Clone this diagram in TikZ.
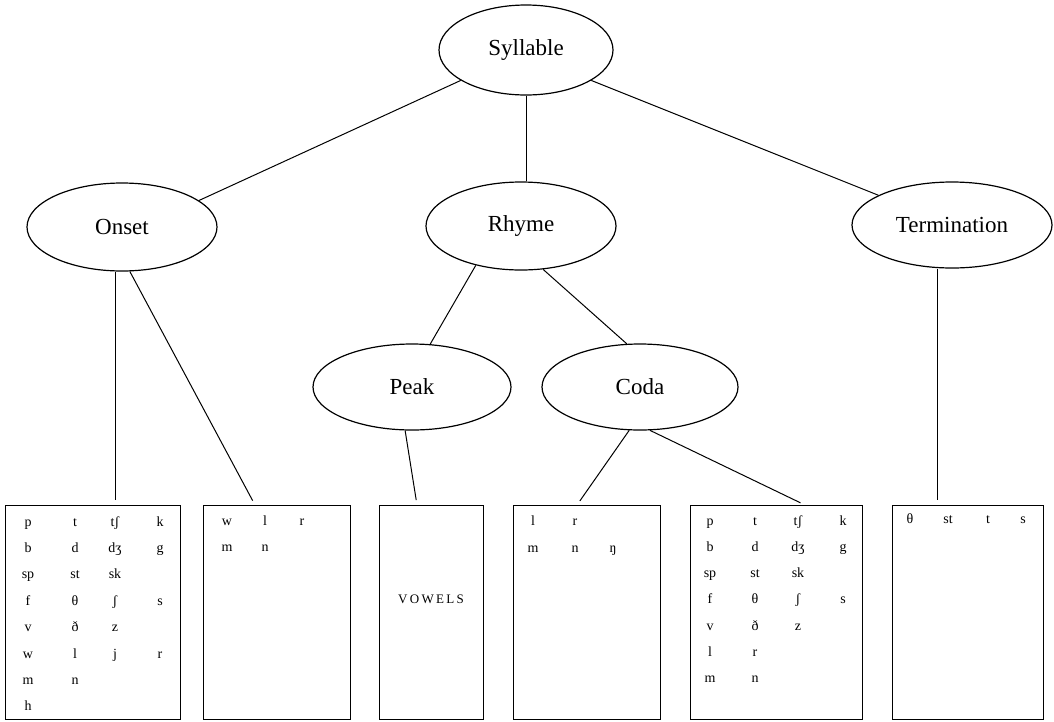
\documentclass[tikz,border=0pt]{standalone}
\usepackage{fontspec}
\setmainfont{Liberation Serif}
\usetikzlibrary{shapes.geometric}
\newcommand\cellrow[3]{\foreach \cx/\ct [count=\ci] in {#3} {\node[cell] (#1-\ci) at (\cx,#2) {\ct};}}
\begin{document}
\begin{tikzpicture}[x=1pt,y=-1pt,
  oval/.style={draw,ellipse,line width=1.2pt,inner sep=0pt,font=\fontsize{23}{27}\selectfont},
  box/.style={draw,rectangle,line width=1.2pt,inner sep=0pt,anchor=north west,minimum height=214pt},
  cell/.style={inner sep=0pt,text height=9pt,text depth=3pt,font=\fontsize{14}{16}\selectfont},
  link/.style={line width=1pt},
  tobox/.style={line width=1pt,shorten >=5pt}]
\useasboundingbox (0,0) rectangle (1054,721);
% ellipses
\node[oval,minimum width=174pt,minimum height=90pt] (syl) at (526,50) {Syllable};
\node[oval,minimum width=190pt,minimum height=88pt] (onset) at (122,227) {Onset};
\node[oval,minimum width=190pt,minimum height=88pt] (rhyme) at (521,226) {Rhyme};
\node[oval,minimum width=200pt,minimum height=86pt] (term) at (952,225) {Termination};
\node[oval,minimum width=198pt,minimum height=86pt] (peak) at (412,387) {Peak};
\node[oval,minimum width=196pt,minimum height=86pt] (coda) at (640,387) {Coda};
% boxes
\node[box,minimum width=175pt] (b1) at (5,505) {};
\node[box,minimum width=147pt] (b2) at (203,505) {};
\node[box,minimum width=104pt] (b3) at (379,505) {};
\node[box,minimum width=147pt] (b4) at (513,505) {};
\node[box,minimum width=172pt] (b5) at (690,505) {};
\node[box,minimum width=151pt] (b6) at (892,505) {};
\coordinate (b1t) at ([xshift=110.5pt]b1.north west);
\coordinate (b2t) at ([xshift=52pt]b2.north west);
\coordinate (b3t) at ([xshift=38pt]b3.north west);
\coordinate (b4t) at ([xshift=64pt]b4.north west);
\coordinate (b5t) at ([xshift=115pt]b5.north west);
\coordinate (b6t) at ([xshift=45.5pt]b6.north west);
% tree connectors
\draw[link] (syl.205) -- (onset.19);
\draw[link] (syl.south) -- (syl.south |- rhyme.north);
\draw[link] (syl.-25) -- (term.158);
\draw[link] (rhyme.221) -- (peak.67);
\draw[link] (rhyme.-63) -- (coda.107);
% to boxes
\draw[tobox] (onset.south -| b1t) -- (b1t);
\draw[tobox] (onset.-80) -- (b2t);
\draw[tobox] (peak.-99) -- (b3t);
\draw[tobox] (coda.-104) -- (b4t);
\draw[tobox] (coda.-77) -- (b5t);
\draw[tobox] (term.south -| b6t) -- (b6t);
% box 1
\cellrow{b1r1}{523}{28/p,75/t,115/tʃ,160/k}
\cellrow{b1r2}{549.4}{28/b,75/d,115/dʒ,160/g}
\cellrow{b1r3}{575.8}{28/sp,75/st,115/sk}
\cellrow{b1r4}{602.2}{28/f,75/θ,115/ʃ,160/s}
\cellrow{b1r5}{628.6}{28/v,75/ð,115/z}
\cellrow{b1r6}{655}{28/w,75/l,115/j,160/r}
\cellrow{b1r7}{681.4}{28/m,75/n}
\cellrow{b1r8}{707.8}{28/h}
% box 2
\cellrow{b2r1}{522}{227/w,265/l,302/r}
\cellrow{b2r2}{548.5}{227/m,265/n}
% box 3
\node[cell,font=\fontsize{13}{15}\selectfont\addfontfeature{LetterSpace=18}] (vow) at (431,600) {VOWELS};
% box 4
\cellrow{b4r1}{522}{533/l,575/r}
\cellrow{b4r2}{549}{533/m,575/n,613/ŋ}
% box 5
\cellrow{b5r1}{522}{710/p,755/t,798/tʃ,843/k}
\cellrow{b5r2}{548.3}{710/b,755/d,798/dʒ,843/g}
\cellrow{b5r3}{574.6}{710/sp,755/st,798/sk}
\cellrow{b5r4}{600.9}{710/f,755/θ,798/ʃ,843/s}
\cellrow{b5r5}{627.2}{710/v,755/ð,798/z}
\cellrow{b5r6}{653.5}{710/l,755/r}
\cellrow{b5r7}{679.8}{710/m,755/n}
% box 6
\cellrow{b6r1}{520}{910/θ,948/st,988/t,1023/s}
\end{tikzpicture}
\end{document}
